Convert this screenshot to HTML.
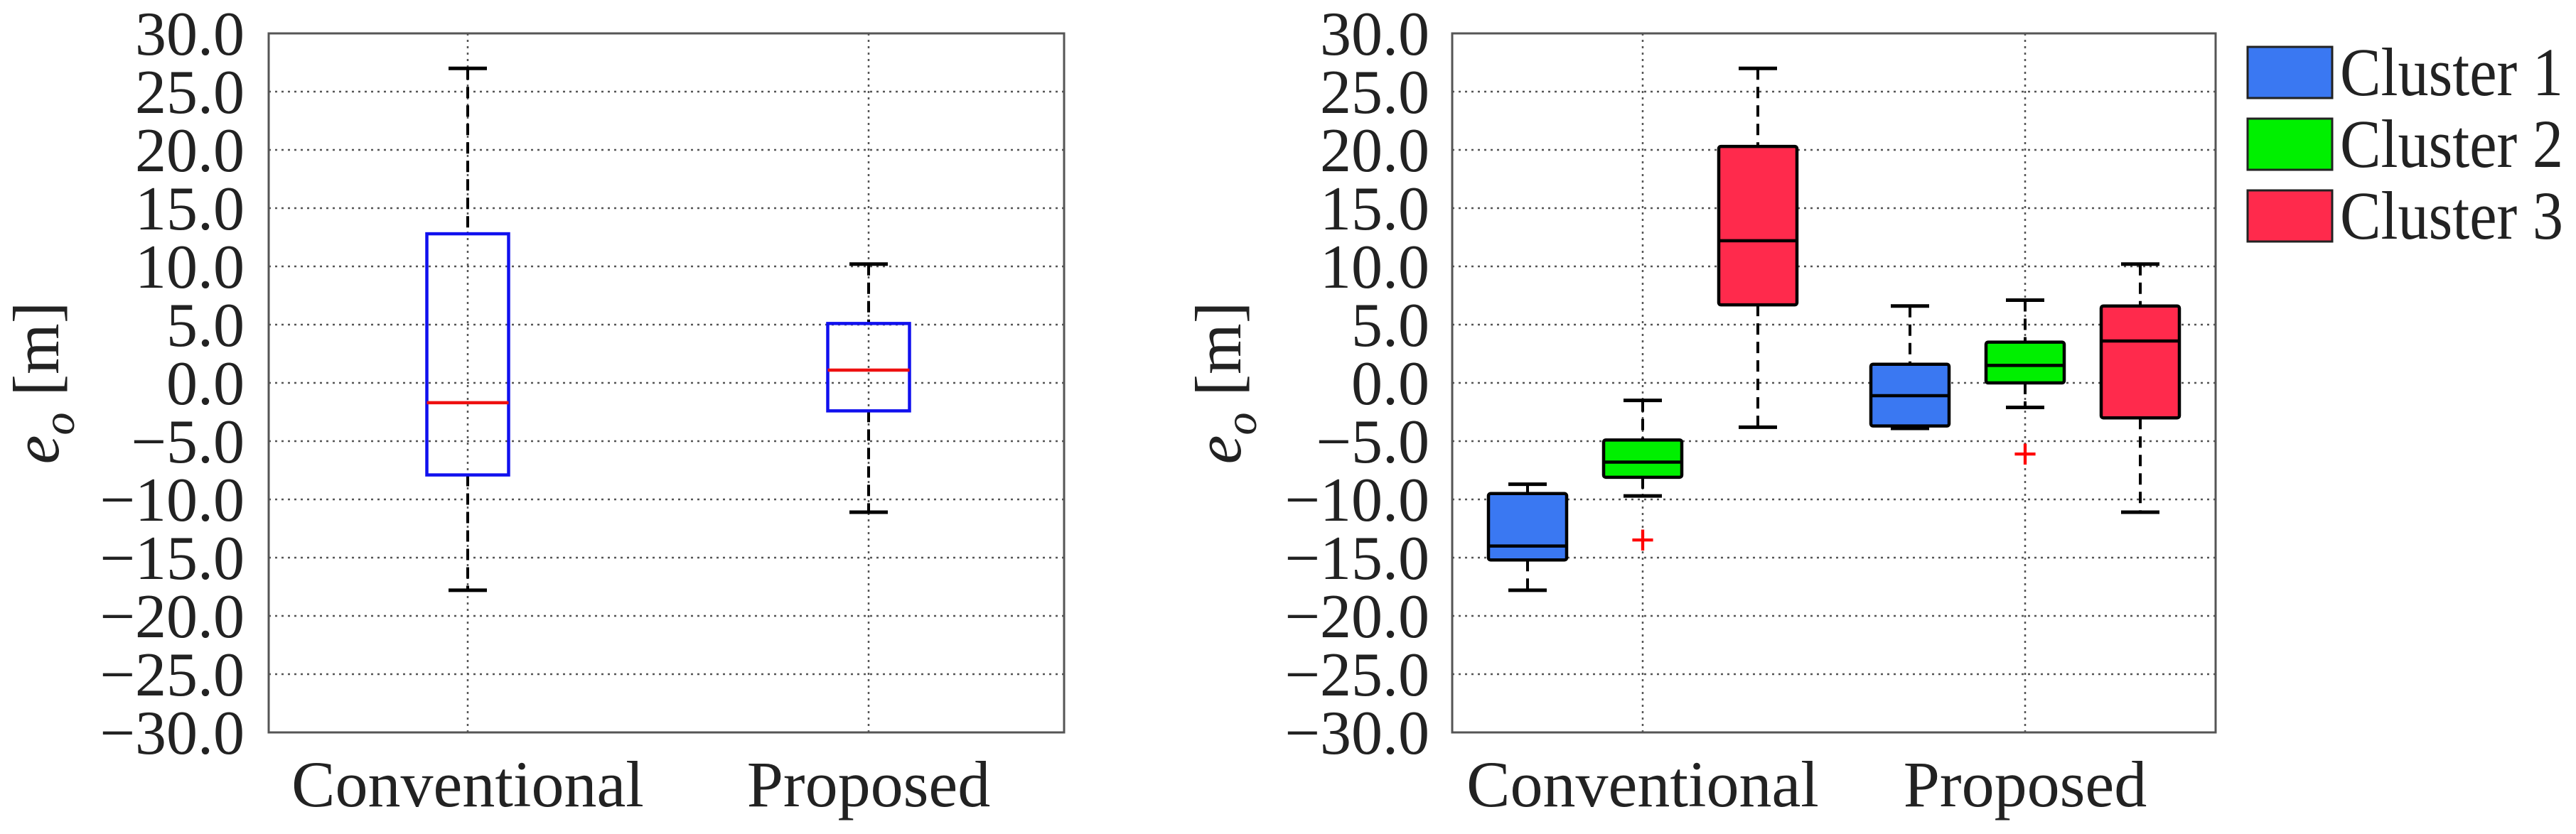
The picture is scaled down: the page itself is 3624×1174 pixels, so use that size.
<!DOCTYPE html>
<html><head><meta charset="utf-8"><style>
html,body{margin:0;padding:0;background:#fff;}
svg{display:block;font-family:"Liberation Serif",serif;}
</style></head><body>
<svg id="chart" width="3624" height="1174" viewBox="0 0 3624 1174" xmlns="http://www.w3.org/2000/svg"></svg>
<script>
const yTicks = [30,25,20,15,10,5,0,-5,-10,-15,-20,-25,-30];
const groups = ["Conventional","Proposed"];
// left panel: [whiskerHigh, q3, median, q1, whiskerLow]
const leftConventional = [27.0, 12.8, -1.7, -7.9, -17.8];
const leftProposed = [10.2, 5.1, 1.1, -2.4, -11.1];
const clusters = ["Cluster 1","Cluster 2","Cluster 3"];
const convC1 = [-8.7, -9.5, -14.0, -15.2, -17.8];
const convC2 = [-1.5, -4.9, -6.8, -8.1, -9.7];
const convC3 = [27.0, 20.3, 12.2, 6.7, -3.8];
const propC1 = [6.6, 1.6, -1.1, -3.7, -3.9];
const propC2 = [7.1, 3.5, 1.5, 0.0, -2.1];
const propC3 = [10.2, 6.6, 3.6, -3.0, -11.1];
const outliersConv = [null, -13.7, null];
const outliersProp = [null, -6.3, null];

const NS="http://www.w3.org/2000/svg";
const svg=document.getElementById('chart');
function mk(tag,attrs,parent){const e=document.createElementNS(NS,tag);for(const k in attrs)e.setAttribute(k,attrs[k]);(parent||svg).appendChild(e);return e;}
const colors=["#3a78f2","#00f000","#ff2a4c"];

function panel(px0,px1,py0,py1,labelRight,titleX,groupX,name){
  const g=mk('g',{});
  
  
  const y=v=>py0+(30-v)/60*(py1-py0);
  yTicks.forEach(t=>{
    if(t!==30&&t!==-30){
      const l=mk('line',{x1:px0,x2:px1,y1:y(t),y2:y(t),stroke:'#555','stroke-width':2.5,'stroke-dasharray':'3,6'},g);
      
      
    }
    const tx=mk('text',{x:labelRight,y:y(t)+30,'text-anchor':'end','font-size':88,fill:'#222'},g);
    tx.textContent=(t<0?'\u2212':'')+Math.abs(t).toFixed(1);
    
    
  });
  groups.forEach((gn,i)=>{
    const l=mk('line',{x1:groupX[i],x2:groupX[i],y1:py0,y2:py1,stroke:'#555','stroke-width':2.5,'stroke-dasharray':'3,6'},g);
    
    
    const t=mk('text',{x:groupX[i],y:1135,'text-anchor':'middle','font-size':92,fill:'#222'},g);
    t.textContent=gn;
    
    
  });
  const fr=mk('rect',{x:px0,y:py0,width:px1-px0,height:py1-py0,fill:'none',stroke:'#555','stroke-width':3},g);
  
  
  const tt=mk('text',{transform:`translate(${titleX},${(py0+py1)/2}) rotate(-90)`,'text-anchor':'middle','font-size':92,fill:'#222'},g);
  tt.innerHTML='<tspan font-style="italic">e</tspan><tspan font-style="italic" font-size="64" dy="22">o</tspan><tspan dy="-22"> [m]</tspan>';
  
  
  return {g,y};
}

function box(p,cx,w,d,fill,stroke,medColor,name,outlier){
  const g=mk('g',{},p.g);
  
  
  const y=p.y;
  mk('line',{x1:cx,x2:cx,y1:y(d[0]),y2:y(d[1]),stroke:'#000','stroke-width':4,'stroke-dasharray':'16,10'},g);
  mk('line',{x1:cx,x2:cx,y1:y(d[3]),y2:y(d[4]),stroke:'#000','stroke-width':4,'stroke-dasharray':'16,10'},g);
  mk('line',{x1:cx-27,x2:cx+27,y1:y(d[0]),y2:y(d[0]),stroke:'#000','stroke-width':5},g);
  mk('line',{x1:cx-27,x2:cx+27,y1:y(d[4]),y2:y(d[4]),stroke:'#000','stroke-width':5},g);
  mk('rect',{x:cx-w/2,y:y(d[1]),width:w,height:y(d[3])-y(d[1]),fill:fill,stroke:stroke,'stroke-width':4.5,rx:fill==='none'?0:3},g);
  mk('line',{x1:cx-w/2,x2:cx+w/2,y1:y(d[2]),y2:y(d[2]),stroke:medColor,'stroke-width':4.5},g);
  if(outlier!=null){
    const o=mk('text',{x:cx,y:y(outlier)+17,'text-anchor':'middle','font-size':60,fill:'#f00','font-family':'Liberation Sans, sans-serif'},g);
    o.textContent='+';
    
    
  }
}

const L=panel(378,1497,47,1031,344,82,[658,1222],'left-panel');
box(L,658,115,leftConventional,'none','#1010ee','#ee1010','box-conventional',null);
box(L,1222,115,leftProposed,'none','#1010ee','#ee1010','box-proposed',null);

const R=panel(2043,3117,47,1031,2011,1745,[2311,2849],'right-panel');
const convSets=[convC1,convC2,convC3], propSets=[propC1,propC2,propC3];
const offs=[-162,0,162];
convSets.forEach((d,i)=>box(R,2311+offs[i],110,d,colors[i],'#000','#000','box-conventional-cluster-'+(i+1),outliersConv[i]));
propSets.forEach((d,i)=>box(R,2849+offs[i],110,d,colors[i],'#000','#000','box-proposed-cluster-'+(i+1),outliersProp[i]));

clusters.forEach((c,i)=>{
  const g=mk('g',{});
  
  
  const yy=66+i*101;
  mk('rect',{x:3162,y:yy,width:119,height:72,fill:colors[i],stroke:'#222','stroke-width':3},g);
  const t=mk('text',{x:3292,y:yy+68,'font-size':96,fill:'#222',textLength:314,lengthAdjust:'spacingAndGlyphs'},g);
  t.textContent=c;
});
</script>
</body></html>
